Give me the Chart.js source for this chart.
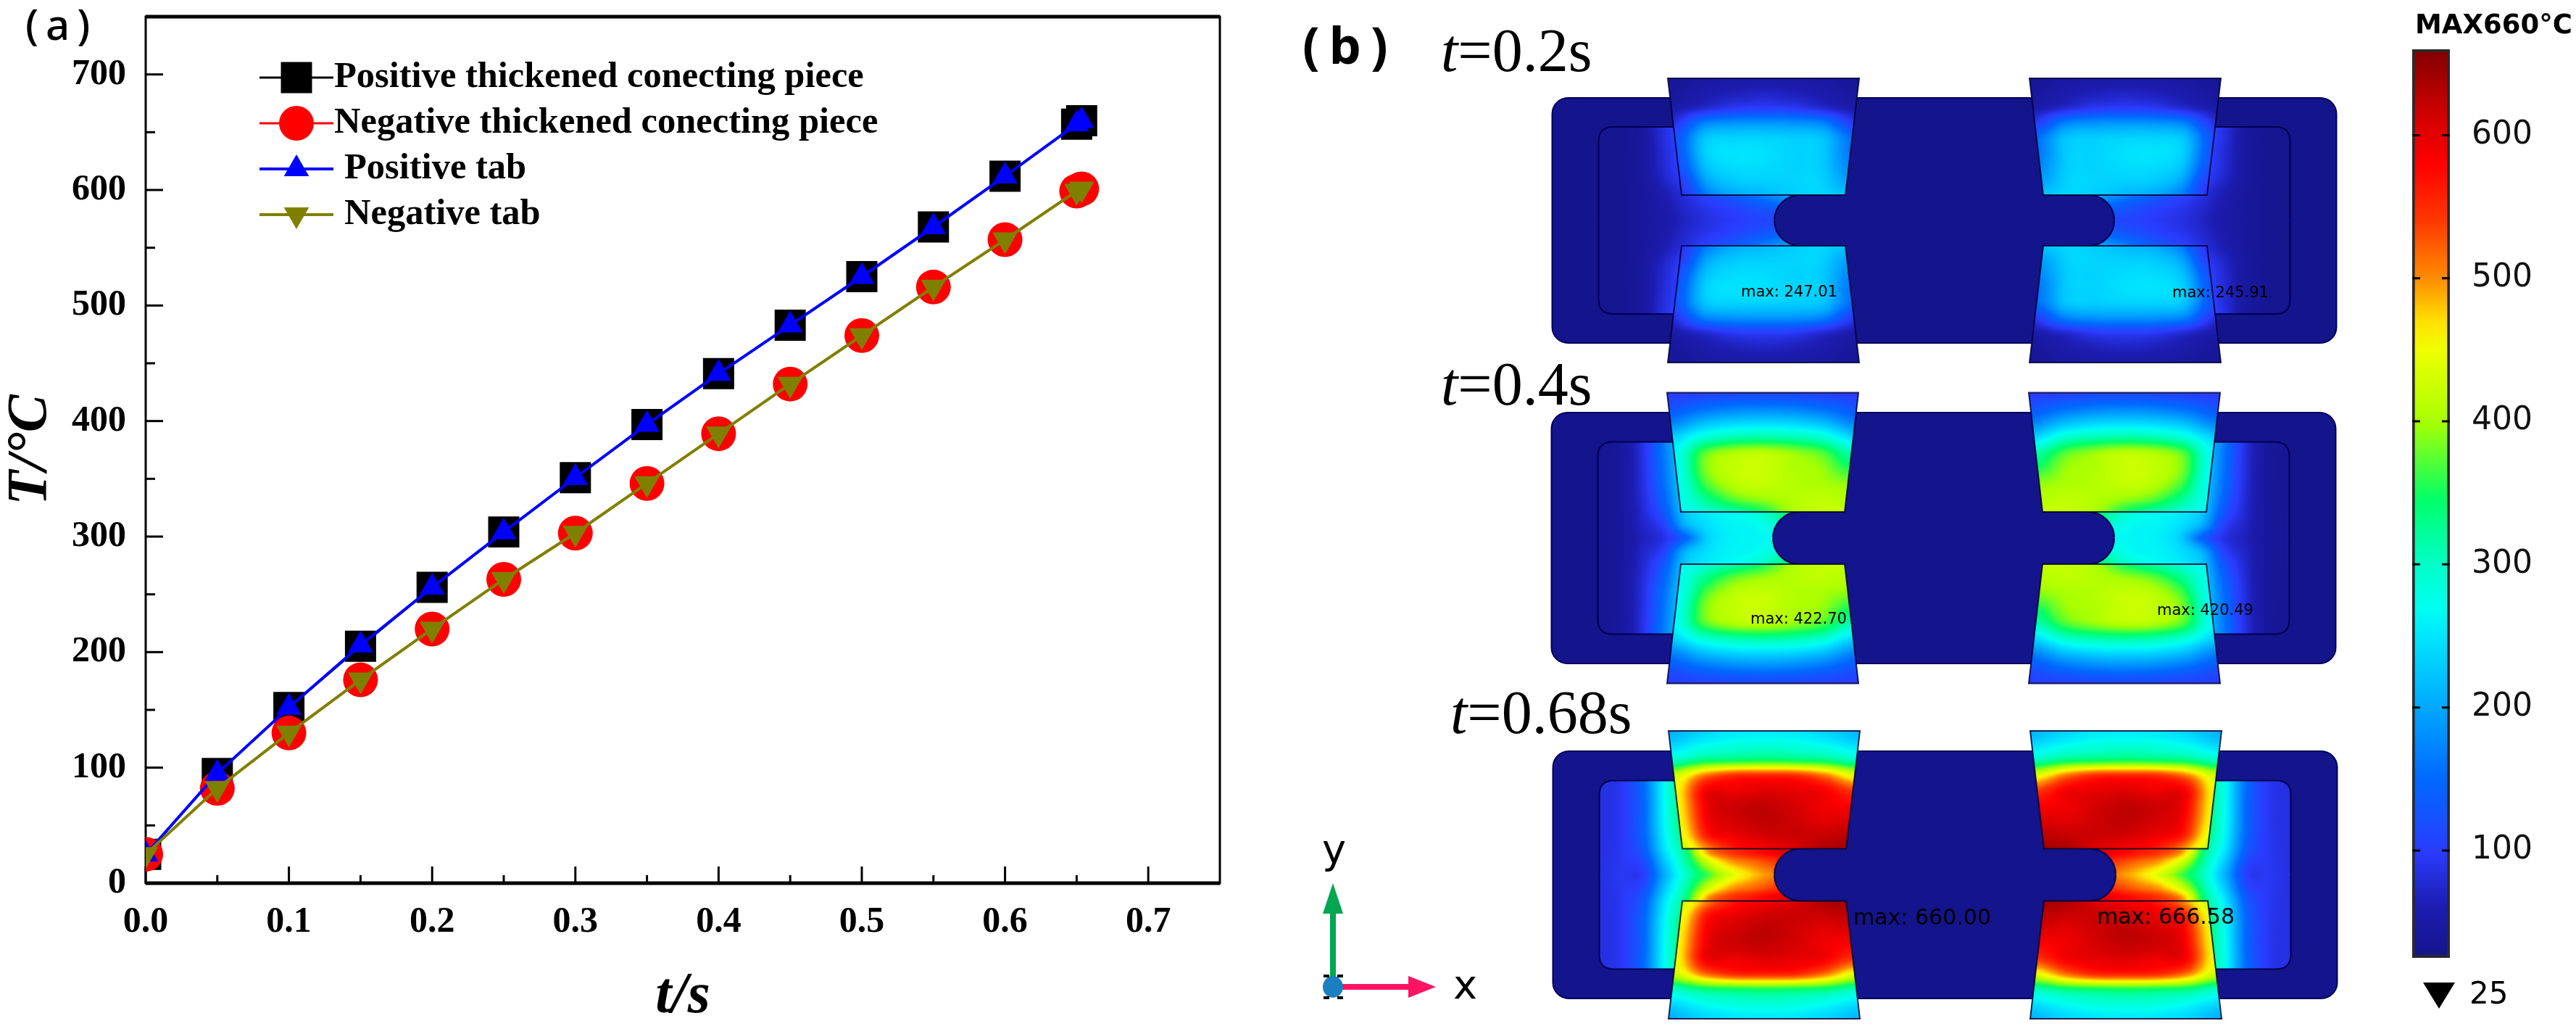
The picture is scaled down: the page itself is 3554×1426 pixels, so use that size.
<!DOCTYPE html>
<html>
<head>
<meta charset="utf-8">
<title>Temperature of connecting pieces and tabs</title>
<script src="https://cdn.jsdelivr.net/npm/chart.js@4/dist/chart.umd.js"></script>
<style>
  html, body { margin: 0; background: #fff; }
  body { width: 3554px; height: 1426px; position: relative; overflow: hidden; }
  canvas { position: absolute; top: 0; }
</style>
</head>
<body>
<canvas id="lineChart" width="1780" height="1426" style="left:0"></canvas>
<canvas id="fieldChart" width="1480" height="1426" style="left:1780px"></canvas>
<canvas id="barChart" width="294" height="1426" style="left:3260px"></canvas>
<script>
// Panel (a) data
const timeValues = [0, 0.05, 0.1, 0.15, 0.2, 0.25, 0.3, 0.35, 0.4, 0.45, 0.5, 0.55, 0.6, 0.65, 0.6535];
const positivePiece = [25, 95, 152, 205, 256, 304, 351, 397, 441, 483, 525, 568, 612, 657, 660];
const negativePiece = [25, 82, 130, 176, 220, 263, 303, 346, 389, 432, 474, 516, 557, 599, 601];
const positiveTab = [25, 95, 152, 206, 256, 304, 351, 397, 441, 483, 525, 568, 612, 657, 660];
const negativeTab = [25, 82, 130, 176, 220, 263, 303, 346, 389, 432, 474, 516, 557, 599, 601];
const seriesNames = ["Positive thickened conecting piece", "Negative thickened conecting piece", "Positive tab", "Negative tab"];
const xTickValues = [0, 0.1, 0.2, 0.3, 0.4, 0.5, 0.6, 0.7];
const xMinorValues = [0.05, 0.15, 0.25, 0.35, 0.45, 0.55, 0.65];
const yTickValues = [0, 100, 200, 300, 400, 500, 600, 700];
const yMinorValues = [50, 150, 250, 350, 450, 550, 650];

// Panel (b) data: temperatures, one quarter of each plate
// tab rows run outer edge -> notch edge, columns run outer side -> inner side
const tabField02 = [
  [35, 45, 50, 52, 50, 45, 35],
  [40, 55, 65, 70, 65, 55, 40],
  [55, 75, 95, 100, 95, 75, 55],
  [85, 165, 180, 182, 180, 165, 95],
  [120, 220, 232, 232, 228, 220, 150],
  [125, 232, 247, 245, 235, 228, 160],
  [120, 222, 242, 242, 235, 230, 175],
  [100, 200, 228, 232, 235, 235, 195],
  [90, 170, 205, 215, 230, 238, 225],
];
const tabField04 = [
  [100, 105, 110, 112, 110, 105, 100],
  [125, 150, 165, 170, 165, 150, 125],
  [170, 215, 235, 240, 235, 215, 170],
  [235, 290, 315, 322, 315, 295, 240],
  [265, 370, 405, 412, 395, 370, 310],
  [270, 385, 418, 422, 405, 395, 350],
  [270, 370, 412, 420, 408, 402, 390],
  [275, 335, 380, 398, 408, 415, 410],
  [270, 295, 320, 350, 402, 418, 420],
];
const tabField068 = [
  [205, 235, 250, 252, 250, 235, 210],
  [240, 270, 285, 290, 285, 270, 245],
  [305, 340, 350, 355, 350, 340, 310],
  [420, 510, 550, 555, 550, 510, 440],
  [450, 585, 590, 600, 595, 585, 540],
  [455, 590, 615, 622, 610, 590, 580],
  [455, 585, 612, 625, 615, 600, 605],
  [445, 570, 595, 612, 618, 618, 625],
  [425, 510, 570, 585, 600, 630, 640],
];
// inner rows run plate centre line -> inner rectangle edge
const innerField02 = [
  [28, 32, 42, 52, 70, 85, 95, 105, 110, 115],
  [28, 32, 42, 55, 75, 92, 105, 120, 135, 150],
  [28, 32, 42, 60, 85, 110, 130, 150, 175, 195],
  [28, 32, 45, 75, 110, 130, 130, 130, 130, 130],
  [28, 32, 45, 80, 115, 130, 130, 130, 130, 130],
  [28, 32, 45, 85, 120, 130, 130, 130, 130, 130],
];
const innerField04 = [
  [35, 42, 65, 85, 140, 230, 258, 262, 265, 270],
  [35, 42, 70, 105, 205, 245, 262, 265, 285, 310],
  [35, 42, 75, 130, 225, 255, 265, 280, 310, 350],
  [35, 42, 80, 150, 235, 260, 260, 260, 260, 260],
  [35, 42, 82, 160, 240, 260, 260, 260, 260, 260],
  [35, 42, 85, 165, 240, 260, 260, 260, 260, 260],
];
const innerField068 = [
  [85, 95, 100, 205, 300, 365, 430, 475, 505, 540],
  [85, 95, 115, 225, 320, 425, 490, 515, 540, 570],
  [85, 95, 135, 250, 345, 500, 540, 560, 580, 600],
  [85, 95, 145, 265, 350, 350, 350, 350, 350, 350],
  [85, 95, 145, 270, 350, 350, 350, 350, 350, 350],
  [85, 95, 150, 270, 350, 350, 350, 350, 350, 350],
];
const innerRowStops = [0, 0.14, 0.28, 0.5, 0.75, 1];
const timeLabels = ["0.2", "0.4", "0.68"];
const maxLeft = [247.01, 422.7, 660.0];
const maxRight = [245.91, 420.49, 666.58];

// Colour bar data
const barTickValues = [100, 200, 300, 400, 500, 600];
const barMin = 25;
const barMax = 660;
const barStopTemps = [25, 60, 100, 130, 150, 200, 250, 270, 300, 345, 400, 450, 470, 500, 540, 580, 620, 660];
const barStopColors = ["#14148c", "#1c1cb0", "#2a3cff", "#1058ff", "#0068ff", "#00a8ff", "#00e6ff", "#00fff0", "#00ffc8", "#00ff68", "#a8ff00", "#f0ff00", "#ffe000", "#ff8c00", "#ff3800", "#ff0000", "#c80000", "#800000"];

const serif = '"Liberation Serif"';
const sans = '"DejaVu Sans"';

// ---------- panel (a) ----------
const framePlugin = {
  id: "frame",
  beforeDatasetsDraw(chart) {
    const { ctx, chartArea: a, scales: { x, y } } = chart;
    ctx.save();
    ctx.strokeStyle = "#000";
    ctx.lineWidth = 3;
    const xTick = (v, len) => { ctx.beginPath(); ctx.moveTo(x.getPixelForValue(v), a.bottom); ctx.lineTo(x.getPixelForValue(v), a.bottom - len); ctx.stroke(); };
    const yTick = (v, len) => { ctx.beginPath(); ctx.moveTo(a.left, y.getPixelForValue(v)); ctx.lineTo(a.left + len, y.getPixelForValue(v)); ctx.stroke(); };
    xTickValues.forEach((v) => xTick(v, 23));
    xMinorValues.forEach((v) => xTick(v, 11));
    yTickValues.forEach((v) => yTick(v, 24));
    yMinorValues.forEach((v) => yTick(v, 13));
    ctx.strokeRect(a.left, a.top, a.width, a.height);
    ctx.lineWidth = 5;
    ctx.beginPath();
    ctx.moveTo(a.left, a.top); ctx.lineTo(a.right, a.top);
    ctx.moveTo(a.left, a.bottom); ctx.lineTo(a.right, a.bottom);
    ctx.stroke();
    ctx.restore();
  },
  afterDatasetsDraw(chart) {
    const ctx = chart.ctx;
    const rows = [107, 170, 233, 296];
    const textX = [461, 461, 475, 475];
    ctx.save();
    ctx.font = "bold 50.5px " + serif;
    ctx.fillStyle = "#000";
    ctx.textBaseline = "middle";
    chart.data.datasets.forEach((ds, i) => {
      ctx.strokeStyle = ds.borderColor;
      ctx.lineWidth = ds.borderWidth;
      ctx.beginPath();
      ctx.moveTo(358, rows[i]);
      ctx.lineTo(460, rows[i]);
      ctx.stroke();
      ctx.fillStyle = ds.pointBackgroundColor;
      ctx.strokeStyle = ds.pointBackgroundColor;
      Chart.helpers.drawPoint(ctx, { pointStyle: ds.pointStyle, radius: ds.pointRadius, rotation: ds.pointRotation || 0, borderWidth: 0 }, 409, rows[i]);
      ctx.fillStyle = "#000";
      ctx.fillText(ds.label, textX[i], rows[i]);
    });
    ctx.font = "500 58px " + '"Noto Sans"';
    ctx.letterSpacing = "10px";
    ctx.textBaseline = "alphabetic";
    ctx.fillText("(a)", 35, 55);
    ctx.restore();
  },
};

function series(values) {
  return values.map((v, i) => ({ x: timeValues[i], y: v }));
}

new Chart(document.getElementById("lineChart"), {
  type: "scatter",
  data: {
    datasets: [
      { label: seriesNames[0], data: series(positivePiece), order: 4, borderColor: "#000", borderWidth: 3, pointBackgroundColor: "#000", pointStyle: "rect", pointRadius: 30.4 },
      { label: seriesNames[1], data: series(negativePiece), order: 3, borderColor: "#ff0000", borderWidth: 3, pointBackgroundColor: "#ff0000", pointStyle: "circle", pointRadius: 24 },
      { label: seriesNames[2], data: series(positiveTab), order: 2, borderColor: "#0000ff", borderWidth: 4, pointBackgroundColor: "#0000ff", pointStyle: "triangle", pointRadius: 20 },
      { label: seriesNames[3], data: series(negativeTab), order: 1, borderColor: "#808000", borderWidth: 4, pointBackgroundColor: "#808000", pointStyle: "triangle", pointRotation: 180, pointRadius: 20 },
    ].map((ds) => ({ ...ds, showLine: true, clip: 0, pointBorderWidth: 0 })),
  },
  plugins: [framePlugin],
  options: {
    responsive: false,
    animation: false,
    events: [],
    layout: { autoPadding: false, padding: { top: 23, right: 97, left: 0, bottom: 0 } },
    plugins: { legend: { display: false }, tooltip: { enabled: false } },
    scales: {
      x: {
        type: "linear", min: 0, max: 0.75,
        grid: { display: false, drawTicks: false }, border: { display: false },
        afterBuildTicks: (s) => { s.ticks = xTickValues.map((value) => ({ value })); },
        afterFit: (s) => { s.height = 208; s.paddingLeft = 0; s.paddingRight = 0; },
        ticks: { color: "#000", font: { family: serif, weight: "bold", size: 50 }, padding: 24, maxRotation: 0, minRotation: 0, autoSkip: false, callback: (v) => v.toFixed(1) },
        title: { display: true, text: "t/s", color: "#000", font: { family: serif, weight: "bold", style: "italic", size: 80, lineHeight: 1 }, padding: { top: 0, bottom: 11 } },
      },
      y: {
        type: "linear", min: 0, max: 750,
        grid: { display: false, drawTicks: false }, border: { display: false },
        afterBuildTicks: (s) => { s.ticks = yTickValues.map((value) => ({ value })); },
        afterFit: (s) => { s.width = 201; s.paddingTop = 0; s.paddingBottom = 0; },
        ticks: { color: "#000", font: { family: serif, weight: "bold", size: 50 }, padding: 27, autoSkip: false },
        title: { display: true, text: "T/°C", color: "#000", font: { family: serif, weight: "bold", style: "italic", size: 78, lineHeight: 1 }, padding: { top: 4, bottom: 0 } },
      },
    },
  },
});

// ---------- panel (b) ----------
// colour lookup built from the colour bar stops
function hexToRgb(hex) {
  return [1, 3, 5].map((i) => parseInt(hex.slice(i, i + 2), 16));
}
const stopRgb = barStopColors.map(hexToRgb);
function tempToRgb(t) {
  if (t <= barStopTemps[0]) return stopRgb[0];
  for (let i = 1; i < barStopTemps.length; i++) {
    if (t <= barStopTemps[i]) {
      const f = (t - barStopTemps[i - 1]) / (barStopTemps[i] - barStopTemps[i - 1]);
      return stopRgb[i].map((c, k) => stopRgb[i - 1][k] + (c - stopRgb[i - 1][k]) * f);
    }
  }
  return stopRgb[stopRgb.length - 1];
}

function catmull(a, b, c, d, f) {
  return 0.5 * (2 * b + (c - a) * f + (2 * a - 5 * b + 4 * c - d) * f * f + (3 * b - a - 3 * c + d) * f * f * f);
}
function sampleRow(row, fx) {
  const n = row.length - 1;
  const i = Math.min(Math.floor(fx), n - 1);
  return catmull(row[Math.max(i - 1, 0)], row[i], row[i + 1], row[Math.min(i + 2, n)], fx - i);
}
function sampleGrid(grid, fx, fy) {
  const n = grid.length - 1;
  const j = Math.min(Math.floor(fy), n - 1);
  const col = [Math.max(j - 1, 0), j, j + 1, Math.min(j + 2, n)].map((r) => sampleRow(grid[r], fx));
  return catmull(col[0], col[1], col[2], col[3], fy - j);
}
function makeLayer(w, h, tempAt) {
  const layer = document.createElement("canvas");
  layer.width = w;
  layer.height = h;
  const c = layer.getContext("2d");
  const img = c.createImageData(w, h);
  for (let j = 0; j < h; j++) {
    for (let i = 0; i < w; i++) {
      const rgb = tempToRgb(tempAt(i, j));
      const p = (j * w + i) * 4;
      img.data[p] = rgb[0]; img.data[p + 1] = rgb[1]; img.data[p + 2] = rgb[2]; img.data[p + 3] = 255;
    }
  }
  c.putImageData(img, 0, 0);
  return layer;
}

const panelGeo = [
  { cy: 304, dx: 0, tabH: 196, bodyH: 169, innerH: 129, notchH: 35, tabField: tabField02, innerField: innerField02, tX: 1988, tY: 98, maxFont: 21, maxL: [2402, 404], maxR: [2997, 405] },
  { cy: 742, dx: -1, tabH: 200.5, bodyH: 173, innerH: 132.5, notchH: 36, tabField: tabField04, innerField: innerField04, tX: 1988, tY: 558, maxFont: 21, maxL: [2415, 855], maxR: [2976, 843] },
  { cy: 1206.5, dx: 1, tabH: 198.5, bodyH: 170.5, innerH: 130, notchH: 36, tabField: tabField068, innerField: innerField068, tX: 2001, tY: 1011, maxFont: 30, maxL: [2557, 1267], maxR: [2893, 1266] },
];
const centerX = 2682.5;
const innerLeft = -477;
const tabLeft = (p, dy) => -362.5 - 19 * (dy - p.notchH) / (p.tabH - p.notchH);
const tabRight = (p, dy) => -136.5 + 19 * (dy - p.notchH) / (p.tabH - p.notchH);
const notchX = -199.5;

function innerRowIndex(r) {
  for (let i = 1; i < innerRowStops.length; i++) {
    if (r <= innerRowStops[i]) return i - 1 + (r - innerRowStops[i - 1]) / (innerRowStops[i] - innerRowStops[i - 1]);
  }
  return innerRowStops.length - 1;
}
function buildLayers(p) {
  const tabTall = Math.ceil(p.tabH - p.notchH) + 1;
  p.tabLayer = makeLayer(268, tabTall, (i, j) => {
    const dy = p.tabH - j;
    const xl = tabLeft(p, dy), xr = tabRight(p, dy);
    const u = Math.min(1, Math.max(0, (i - 383 - xl) / (xr - xl)));
    return sampleGrid(p.tabField, u * 6, (j / (tabTall - 1)) * 8);
  });
  const innerTall = Math.ceil(p.innerH) + 3;
  p.innerLayer = makeLayer(300, innerTall, (i, j) => {
    const r = Math.min(1, Math.abs(j - p.innerH) / p.innerH);
    return sampleGrid(p.innerField, Math.min(i / 30, 9), innerRowIndex(r));
  });
}
panelGeo.forEach(buildLayers);

function innerPath(c, p) {
  const rad = 20;
  c.beginPath();
  c.moveTo(innerLeft, 1);
  c.lineTo(innerLeft, -p.innerH + rad);
  c.quadraticCurveTo(innerLeft, -p.innerH, innerLeft + rad, -p.innerH);
  c.lineTo(tabLeft(p, p.innerH) + 2, -p.innerH);
  c.lineTo(tabLeft(p, p.notchH) + 2, -p.notchH);
  c.lineTo(notchX, -p.notchH);
  c.arc(notchX, 0, p.notchH, -Math.PI / 2, Math.PI, true);
  c.lineTo(notchX - p.notchH, 1);
  c.closePath();
}
function tabPath(c, p) {
  c.beginPath();
  c.moveTo(tabLeft(p, p.tabH), -p.tabH);
  c.lineTo(tabRight(p, p.tabH), -p.tabH);
  c.lineTo(tabRight(p, p.notchH), -p.notchH);
  c.lineTo(tabLeft(p, p.notchH), -p.notchH);
  c.closePath();
}
function drawQuarter(c, p, px, py, sx, sy) {
  c.save();
  c.translate(px, py);
  c.scale(sx, sy);
  c.save();
  innerPath(c, p);
  c.clip();
  c.drawImage(p.innerLayer, innerLeft, -p.innerH);
  c.restore();
  // inner rectangle outline
  const rad = 20;
  c.strokeStyle = "#000050";
  c.lineWidth = 2;
  c.beginPath();
  c.moveTo(innerLeft, 0);
  c.lineTo(innerLeft, -p.innerH + rad);
  c.quadraticCurveTo(innerLeft, -p.innerH, innerLeft + rad, -p.innerH);
  c.lineTo(tabLeft(p, p.innerH), -p.innerH);
  c.stroke();
  c.beginPath();
  c.arc(notchX, 0, p.notchH, -Math.PI / 2, Math.PI, true);
  c.stroke();
  c.save();
  tabPath(c, p);
  c.clip();
  c.drawImage(p.tabLayer, -383, -p.tabH);
  c.restore();
  tabPath(c, p);
  c.strokeStyle = "rgba(0,0,50,0.85)";
  c.lineWidth = 2;
  c.stroke();
  c.restore();
}
function roundedBody(c, x, y, w, h, r) {
  c.beginPath();
  c.roundRect(x, y, w, h, r);
}
function arrow(c, x0, y0, x1, y1, headLen, headHalf, width, color) {
  const ang = Math.atan2(y1 - y0, x1 - x0);
  const len = Math.hypot(x1 - x0, y1 - y0);
  c.save();
  c.translate(x0, y0);
  c.rotate(ang);
  c.fillStyle = color;
  c.fillRect(0, -width / 2, len - headLen, width);
  c.beginPath();
  c.moveTo(len, 0);
  c.lineTo(len - headLen, -headHalf);
  c.lineTo(len - headLen, headHalf);
  c.closePath();
  c.fill();
  c.restore();
}

const platePlugin = {
  id: "plates",
  afterDraw(chart) {
    const { ctx: c, scales: { x, y } } = chart;
    const px = (v) => x.getPixelForValue(v);
    const py = (v) => y.getPixelForValue(v);
    c.save();
    panelGeo.forEach((p, idx) => {
      const cx = centerX + p.dx;
      const left = px(cx), mid = py(p.cy);
      roundedBody(c, left - 541, mid - p.bodyH, 1082, 2 * p.bodyH, 22);
      c.fillStyle = "#14148c";
      c.fill();
      c.strokeStyle = "#00005a";
      c.lineWidth = 2;
      c.stroke();
      [[1, 1], [1, -1], [-1, 1], [-1, -1]].forEach(([sx, sy]) => drawQuarter(c, p, left, mid, sx, sy));

      c.fillStyle = "#000";
      c.textBaseline = "middle";
      c.font = p.maxFont + "px " + sans;
      c.fillText("max: " + maxLeft[idx].toFixed(2), px(p.maxL[0]), py(p.maxL[1]));
      c.fillText("max: " + maxRight[idx].toFixed(2), px(p.maxR[0]), py(p.maxR[1]));

      c.textBaseline = "alphabetic";
      c.font = "italic 84px " + serif;
      c.fillText("t", px(p.tX), py(p.tY));
      const w = c.measureText("t").width;
      c.font = "84px " + serif;
      c.fillText("=" + timeLabels[idx] + "s", px(p.tX) + w, py(p.tY));
    });

    c.font = "bold 70px " + '"Noto Sans"';
    c.letterSpacing = "13px";
    c.fillText("(b)", px(1797), py(88));
    c.letterSpacing = "0px";

    // coordinate triad
    arrow(c, px(1839), py(1350), px(1839), py(1218), 42, 14, 8, "#00a650");
    arrow(c, px(1850), py(1361), px(1981), py(1361), 38, 15, 8, "#ff1464");
    c.fillStyle = "#1a7fc0";
    c.beginPath();
    c.ellipse(px(1839), py(1361), 14, 15, 0, 0, Math.PI * 2);
    c.fill();
    c.fillStyle = "#000";
    [[1826, 1344], [1845, 1344], [1826, 1374], [1845, 1374]].forEach(([mx, my]) => c.fillRect(px(mx), py(my), 8, 4));
    c.font = "56px " + sans;
    c.fillText("y", px(1824), py(1190));
    c.fillText("x", px(2005), py(1377));
    c.restore();
  },
};

new Chart(document.getElementById("fieldChart"), {
  type: "scatter",
  data: { datasets: [] },
  plugins: [platePlugin],
  options: {
    responsive: false,
    animation: false,
    events: [],
    plugins: { legend: { display: false }, tooltip: { enabled: false } },
    scales: {
      x: { type: "linear", min: 1780, max: 3260, display: false },
      y: { type: "linear", min: 0, max: 1426, reverse: true, display: false },
    },
  },
});

// ---------- colour bar ----------
const barPlugin = {
  id: "barExtras",
  afterDatasetsDraw(chart) {
    const { ctx: c, chartArea: a, scales: { y } } = chart;
    c.save();
    c.strokeStyle = "#000";
    c.lineWidth = 3;
    barTickValues.forEach((v) => {
      const py = y.getPixelForValue(v);
      c.beginPath();
      c.moveTo(a.left, py); c.lineTo(a.left + 11, py);
      c.moveTo(a.right - 11, py); c.lineTo(a.right, py);
      c.stroke();
    });
    c.fillStyle = "#000";
    c.textBaseline = "middle";
    c.font = "bold 37px " + sans;
    c.fillText("MAX660°C", 72, 36);
    c.font = "42px " + sans;
    c.fillText(String(barMin), 147, 1373);
    c.beginPath();
    c.moveTo(83, 1355); c.lineTo(127, 1355); c.lineTo(105, 1391);
    c.closePath();
    c.fill();
    c.restore();
  },
};

new Chart(document.getElementById("barChart"), {
  type: "bar",
  data: {
    labels: ["T"],
    datasets: [{
      data: [[barMin, barMax]],
      barPercentage: 1,
      categoryPercentage: 1,
      borderWidth: 4,
      borderColor: "#2a2a2a",
      borderSkipped: false,
      backgroundColor: (ctx) => {
        const s = ctx.chart.scales.y;
        const y0 = s ? s.getPixelForValue(barMin) : NaN;
        const y1 = s ? s.getPixelForValue(barMax) : NaN;
        if (!Number.isFinite(y0) || !Number.isFinite(y1)) return "#000";
        const g = ctx.chart.ctx.createLinearGradient(0, y0, 0, y1);
        barStopTemps.forEach((t, i) => g.addColorStop((t - barMin) / (barMax - barMin), barStopColors[i]));
        return g;
      },
    }],
  },
  plugins: [barPlugin],
  options: {
    responsive: false,
    animation: false,
    events: [],
    layout: { autoPadding: false, padding: { left: 68, top: 68, bottom: 105, right: 0 } },
    plugins: { legend: { display: false }, tooltip: { enabled: false } },
    scales: {
      x: { display: false },
      y: {
        position: "right", min: barMin, max: barMax,
        grid: { display: false, drawTicks: false }, border: { display: false },
        afterBuildTicks: (s) => { s.ticks = barTickValues.map((value) => ({ value })); },
        afterFit: (s) => { s.width = 174; s.paddingTop = 0; s.paddingBottom = 0; },
        ticks: { color: "#111", font: { family: sans, size: 44 }, padding: 30, autoSkip: false },
      },
    },
  },
});
</script>
</body>
</html>
